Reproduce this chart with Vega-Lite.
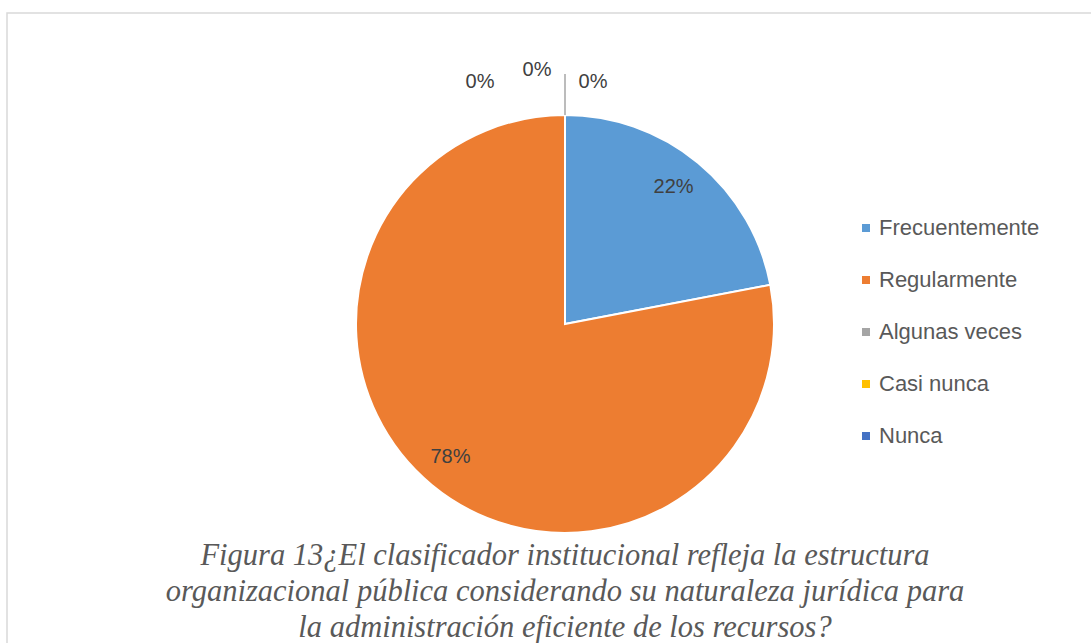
{
  "$schema": "https://vega.github.io/schema/vega-lite/v6.json",
  "width": 1116,
  "height": 640,
  "autosize": "none",
  "padding": {"left": 7, "top": 13, "right": 0, "bottom": 0},
  "background": "white",
  "view": {"stroke": "#d9d9d9", "strokeWidth": 1.5, "fill": "white"},
  "config": {
    "legend": {
      "orient": "none",
      "legendX": 848,
      "legendY": 204,
      "symbolType": "square",
      "symbolSize": 64,
      "symbolStrokeWidth": 0,
      "labelFont": "Liberation Sans",
      "labelFontSize": 22,
      "labelColor": "#595959",
      "labelLimit": 400,
      "rowPadding": 30,
      "labelOffset": 2,
      "padding": 0
    }
  },
  "data": {
    "values": [
      {"categoria": "Frecuentemente", "valor": 22, "pct": "22%", "orden": 1},
      {"categoria": "Regularmente", "valor": 78, "pct": "78%", "orden": 2},
      {"categoria": "Algunas veces", "valor": 0, "pct": "0%", "orden": 3},
      {"categoria": "Casi nunca", "valor": 0, "pct": "0%", "orden": 4},
      {"categoria": "Nunca", "valor": 0, "pct": "0%", "orden": 5}
    ]
  },
  "title": {
    "text": [
      "Figura 13¿El clasificador institucional refleja la estructura",
      "organizacional pública considerando su naturaleza jurídica para",
      "la administración eficiente de los recursos?"
    ],
    "orient": "bottom",
    "anchor": "middle",
    "frame": "group",
    "offset": -112,
    "baseline": "top",
    "font": "Liberation Serif",
    "fontStyle": "italic",
    "fontWeight": "normal",
    "fontSize": 30.5,
    "lineHeight": 36,
    "color": "#595959"
  },
  "encoding": {
    "theta": {"field": "valor", "type": "quantitative", "stack": true},
    "order": {"field": "orden", "type": "quantitative"}
  },
  "layer": [
    {
      "mark": {"type": "arc", "outerRadius": 209, "y": 311, "stroke": "white", "strokeWidth": 2},
      "encoding": {
        "color": {
          "field": "categoria",
          "type": "nominal",
          "title": null,
          "sort": ["Frecuentemente", "Regularmente", "Algunas veces", "Casi nunca", "Nunca"],
          "scale": {
            "domain": ["Frecuentemente", "Regularmente", "Algunas veces", "Casi nunca", "Nunca"],
            "range": ["#5B9BD5", "#ED7D31", "#A5A5A5", "#FFC000", "#4472C4"]
          }
        }
      }
    },
    {
      "transform": [{"filter": "datum.categoria == 'Casi nunca'"}],
      "mark": {"type": "arc", "innerRadius": 209, "outerRadius": 250, "y": 311, "fill": null, "stroke": "#A6A6A6", "strokeWidth": 1.5}
    },
    {
      "mark": {"type": "text", "radius": 175, "y": 311, "dx": -3, "dy": -2, "font": "Liberation Sans", "fontSize": 20, "color": "#404040"},
      "encoding": {
        "text": {"condition": {"test": "datum.valor > 0", "field": "pct"}, "value": ""}
      }
    },
    {
      "transform": [{"filter": "datum.categoria == 'Algunas veces'"}],
      "mark": {"type": "text", "radius": 250, "y": 311, "dx": -85, "dy": 8, "font": "Liberation Sans", "fontSize": 20, "color": "#404040"},
      "encoding": {"text": {"field": "pct"}}
    },
    {
      "transform": [{"filter": "datum.categoria == 'Casi nunca'"}],
      "mark": {"type": "text", "radius": 250, "y": 311, "dx": -28, "dy": -4, "font": "Liberation Sans", "fontSize": 20, "color": "#404040"},
      "encoding": {"text": {"field": "pct"}}
    },
    {
      "transform": [{"filter": "datum.categoria == 'Nunca'"}],
      "mark": {"type": "text", "radius": 250, "y": 311, "dx": 28, "dy": 8, "font": "Liberation Sans", "fontSize": 20, "color": "#404040"},
      "encoding": {"text": {"field": "pct"}}
    }
  ]
}
